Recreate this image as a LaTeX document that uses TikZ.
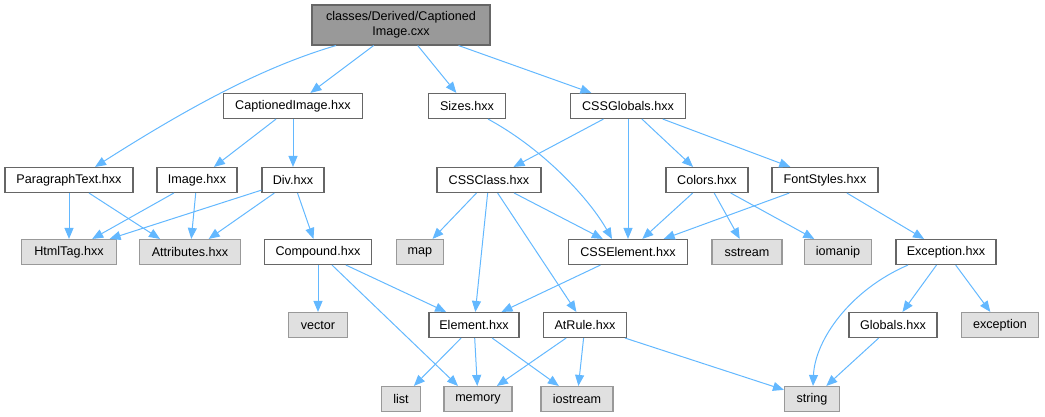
\documentclass[tikz,border=0pt]{standalone}
\usepackage{fontspec}
\setmainfont{Liberation Sans}
\usetikzlibrary{arrows.meta}
\definecolor{edgec}{HTML}{63B8FF}
\definecolor{greyfill}{HTML}{E0E0E0}
\definecolor{greyline}{HTML}{999999}
\definecolor{darkline}{HTML}{666666}
\definecolor{rootfill}{HTML}{999999}
\tikzset{
  base/.style={rectangle, inner sep=0pt, minimum height=25pt, font=\fontsize{12.6}{15}\selectfont, line width=1.1pt, align=center},
  wbox/.style={base, draw=darkline, fill=white},
  gbox/.style={base, draw=greyline, fill=greyfill},
  rootbox/.style={base, draw=darkline, fill=rootfill, minimum height=40pt},
  edge/.style={draw=edgec, line width=1pt, -{Triangle[length=11pt,width=9pt]}},
}
\begin{document}
\begin{tikzpicture}[x=1pt,y=-1pt]
\useasboundingbox (0,0) rectangle (1045,417);
% row 0
\node[rootbox, minimum width=178pt] (root) at (401,25) {classes/Derived/Captioned\\Image.cxx};
% row 1
\node[wbox, minimum width=139pt] (cap) at (293,106) {CaptionedImage.hxx};
\node[wbox, minimum width=77pt] (sizes) at (467,106) {Sizes.hxx};
\node[wbox, minimum width=115pt] (cssg) at (628,106) {CSSGlobals.hxx};
% row 2
\node[wbox, minimum width=128pt] (para) at (69,180) {ParagraphText.hxx};
\node[wbox, minimum width=80pt] (image) at (197,180) {Image.hxx};
\node[wbox, minimum width=62pt] (div) at (293,180) {Div.hxx};
\node[wbox, minimum width=104pt] (cssclass) at (489,180) {CSSClass.hxx};
\node[wbox, minimum width=82pt] (colors) at (707,180) {Colors.hxx};
\node[wbox, minimum width=106pt] (font) at (825,180) {FontStyles.hxx};
% row 3
\node[gbox, minimum width=95pt] (html) at (69,252) {HtmlTag.hxx};
\node[gbox, minimum width=101pt] (attr) at (190,252) {Attributes.hxx};
\node[wbox, minimum width=107pt] (comp) at (318,252) {Compound.hxx};
\node[gbox, minimum width=47pt] (map) at (420,252) {map};
\node[wbox, minimum width=119pt] (csse) at (628,252) {CSSElement.hxx};
\node[gbox, minimum width=70pt] (sstream) at (747,252) {sstream};
\node[gbox, minimum width=67pt] (iomanip) at (838,252) {iomanip};
\node[wbox, minimum width=100pt] (exc) at (946,252) {Exception.hxx};
% row 4
\node[gbox, minimum width=59pt] (vector) at (318,325) {vector};
\node[wbox, minimum width=90pt] (elem) at (474,325) {Element.hxx};
\node[wbox, minimum width=83pt] (atrule) at (585,325) {AtRule.hxx};
\node[wbox, minimum width=88pt] (glob) at (893,325) {Globals.hxx};
\node[gbox, minimum width=77pt] (exception) at (1000,325) {exception};
% row 5
\node[gbox, minimum width=39pt] (list) at (401,399) {list};
\node[gbox, minimum width=68pt] (memory) at (478,399) {memory};
\node[gbox, minimum width=72pt] (iostream) at (577,399) {iostream};
\node[gbox, minimum width=55pt] (string) at (812,399) {string};
% edges
\draw[edge] ([xshift=-65pt]root.south) .. controls (270,65) and (200,100) .. ([xshift=26pt]para.north);
\draw[edge] (root) -- (cap);
\draw[edge] (root) -- (sizes);
\draw[edge] (root) -- (cssg);
\draw[edge] (cap) -- (image);
\draw[edge] (cap) -- (div);
\draw[edge] ([xshift=21pt]sizes.south) .. controls (545,150) and (590,200) .. ([xshift=-16pt]csse.north);
\draw[edge] (cssg) -- (cssclass);
\draw[edge] (cssg) -- (csse);
\draw[edge] (cssg) -- (colors);
\draw[edge] (cssg) -- (font);
\draw[edge] (para) -- (html);
\draw[edge] ([xshift=20pt]para.south) -- ([xshift=-30pt]attr.north);
\draw[edge] (image) -- (html);
\draw[edge] (image) -- (attr);
\draw[edge] (div) -- (html);
\draw[edge] (div) -- (attr);
\draw[edge] (div) -- (comp);
\draw[edge] (cssclass) -- (map);
\draw[edge] (cssclass) -- (elem);
\draw[edge] (cssclass) -- (csse);
\draw[edge] (cssclass) -- (atrule);
\draw[edge] (colors) -- (csse);
\draw[edge] (colors) -- (sstream);
\draw[edge] (colors) -- (iomanip);
\draw[edge] (font) -- (csse);
\draw[edge] (font) -- (exc);
\draw[edge] (comp) -- (vector);
\draw[edge] (comp) -- (elem);
\draw[edge] ([xshift=14pt]comp.south) -- ([xshift=-20pt]memory.north);
\draw[edge] (csse) -- (elem);
\draw[edge] ([xshift=-38pt]exc.south) .. controls (850,290) and (815,340) .. ([xshift=1pt]string.north);
\draw[edge] (exc) -- (glob);
\draw[edge] (exc) -- (exception);
\draw[edge] (elem) -- (list);
\draw[edge] (elem) -- (memory);
\draw[edge] (elem) -- (iostream);
\draw[edge] (atrule) -- (memory);
\draw[edge] (atrule) -- (iostream);
\draw[edge] (atrule) -- (string);
\draw[edge] (glob) -- (string);
\end{tikzpicture}
\end{document}
